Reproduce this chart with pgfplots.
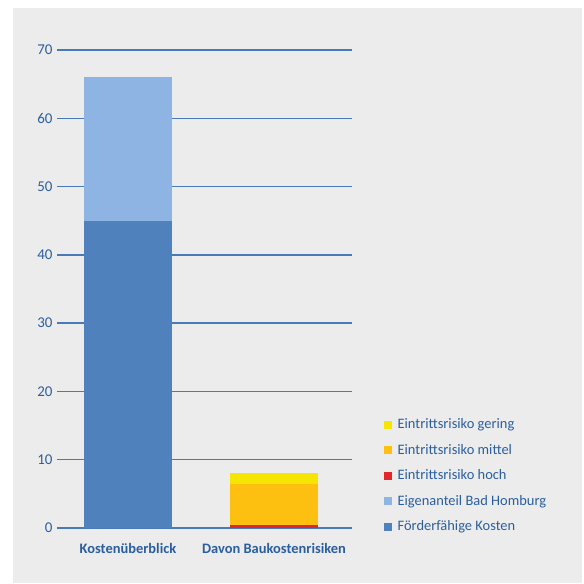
\documentclass[border=0pt]{standalone}
\usepackage{pgfplots}
\pgfplotsset{compat=1.18}
\usepackage{fontspec}
\setmainfont{Carlito}
\definecolor{txt}{HTML}{2B5E9E}
\definecolor{gridc}{HTML}{4A7AB5}
\definecolor{bg}{HTML}{ECECEC}
\definecolor{cFoerder}{HTML}{4F81BD}
\definecolor{cEigen}{HTML}{8EB4E3}
\definecolor{cHoch}{HTML}{E3262A}
\definecolor{cMittel}{HTML}{FDC010}
\definecolor{cGering}{HTML}{F5E500}
\pgfplotsset{sq/.style={legend image code/.code={\fill[##1] (0bp,-4bp) rectangle (8bp,4bp); \path (12bp,0bp);}}}
\begin{document}
\begin{tikzpicture}[x=1bp,y=1bp]
\fill[white] (0,0) rectangle (584,584);
\fill[bg] (13,1) rectangle (582,576);
\begin{axis}[
  at={(57bp,56bp)}, anchor=south west,
  scale only axis, width=295bp, height=478bp,
  ybar stacked, bar width=88bp,
  xmin=-0.486, xmax=1.534, ymin=0, ymax=70,
  xtick={0,1}, xticklabels={Kostenüberblick,Davon Baukostenrisiken},
  ytick={0,10,...,70},
  axis line style={draw=none}, tick style={draw=none},
  ymajorgrids, grid style={color=gridc, line width=1.3bp},
  /pgf/number format/assume math mode=true,
  yticklabel style={text=txt, font=\fontsize{15}{17}\selectfont, xshift=-1bp},
  xticklabel style={text=txt, font=\fontsize{14.5}{17}\selectfont\bfseries, yshift=-12bp},
  legend style={at={(1.098,-0.017)}, anchor=south west, draw=none, fill=none,
    font=\fontsize{14.5}{17}\selectfont, text=txt, row sep=11bp,
    nodes={inner sep=1.5bp}},
  legend cell align=left,
  reverse legend,
]
\addplot[fill=cFoerder, draw=none, sq] coordinates {(0,45) (1,0)};
\addlegendentry{Förderfähige Kosten}
\addplot[fill=cEigen, draw=none, sq] coordinates {(0,21) (1,0)};
\addlegendentry{Eigenanteil Bad Homburg}
\addplot[fill=cHoch, draw=none, sq] coordinates {(0,0) (1,0.5)};
\addlegendentry{Eintrittsrisiko hoch}
\addplot[fill=cMittel, draw=none, sq] coordinates {(0,0) (1,6)};
\addlegendentry{Eintrittsrisiko mittel}
\addplot[fill=cGering, draw=none, sq] coordinates {(0,0) (1,1.5)};
\addlegendentry{Eintrittsrisiko gering}
\end{axis}
\end{tikzpicture}
\end{document}
